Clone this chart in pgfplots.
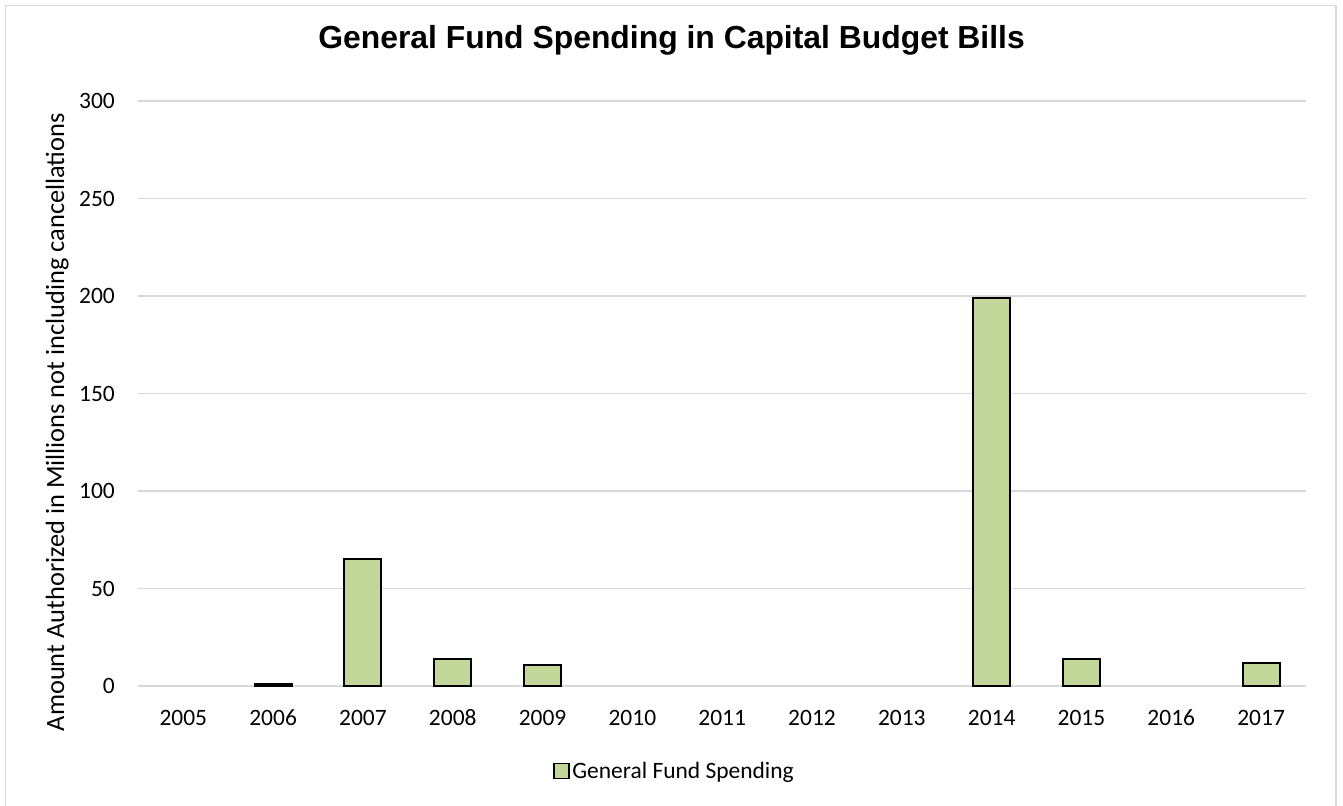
\documentclass[border=0pt]{standalone}
\usepackage{pgfplots}
\pgfplotsset{compat=1.18}
\usepackage{fontspec}
\setmainfont{Carlito}
\newfontfamily\titlefont{Liberation Sans}
\definecolor{barfill}{RGB}{196,215,155}
\definecolor{gridgray}{RGB}{217,217,217}
\begin{document}
\begin{tikzpicture}
\useasboundingbox (0pt,0pt) rectangle (1007.25pt,-604.5pt);
\draw[gridgray, line width=1.2pt] (4.1pt,-4.1pt) rectangle (1002pt,-605.5pt);
\begin{axis}[
  at={(103.8pt,-514.5pt)}, anchor=south west,
  scale only axis,
  width=875.7pt, height=438.75pt,
  xmin=-0.5, xmax=12.5,
  ymin=0, ymax=300,
  ytick={0,50,100,150,200,250,300},
  xtick={0,1,2,3,4,5,6,7,8,9,10,11,12},
  xticklabels={2005,2006,2007,2008,2009,2010,2011,2012,2013,2014,2015,2016,2017},
  axis line style={draw=none},
  axis x line*=bottom,
  major tick length=0pt,
  ymajorgrids,
  grid style={gridgray, line width=1.1pt},
  tick label style={font=\fontsize{17.6pt}{20pt}\selectfont, inner sep=0pt},
  /pgf/number format/assume math mode=true,
  x tick label style={anchor=base, yshift=-29.25pt},
  y tick label style={anchor=east, xshift=-17.5pt},
  ylabel={Amount Authorized in Millions not including cancellations},
  ylabel style={at={(axis description cs:-0.0635,0.451)}, anchor=base, rotate=0, font=\fontsize{19.8pt}{22pt}\selectfont, inner sep=0pt},
  title={\titlefont\bfseries General Fund Spending in Capital Budget Bills},
  title style={at={(axis description cs:0.4566,1.0757)}, anchor=base, font=\fontsize{23.9pt}{28pt}\selectfont, inner sep=0pt},
  legend style={at={(axis description cs:0.4594,-0.1453)}, anchor=center, draw=none, fill=none,
    font=\fontsize{17.6pt}{20pt}\selectfont},
  legend image code/.code={\draw[#1, line width=1.2pt] (0pt,-5.6pt) rectangle (11.25pt,5.6pt);},
  clip=false,
]
\addplot[ybar, bar width=27.75pt, fill=barfill, draw=black, line width=1.5pt, bar shift=0pt]
  coordinates {(1,1) (2,65) (3,14) (4,11) (9,199) (10,14) (12,12)};
\addlegendentry{General Fund Spending}
\end{axis}
\end{tikzpicture}
\end{document}
